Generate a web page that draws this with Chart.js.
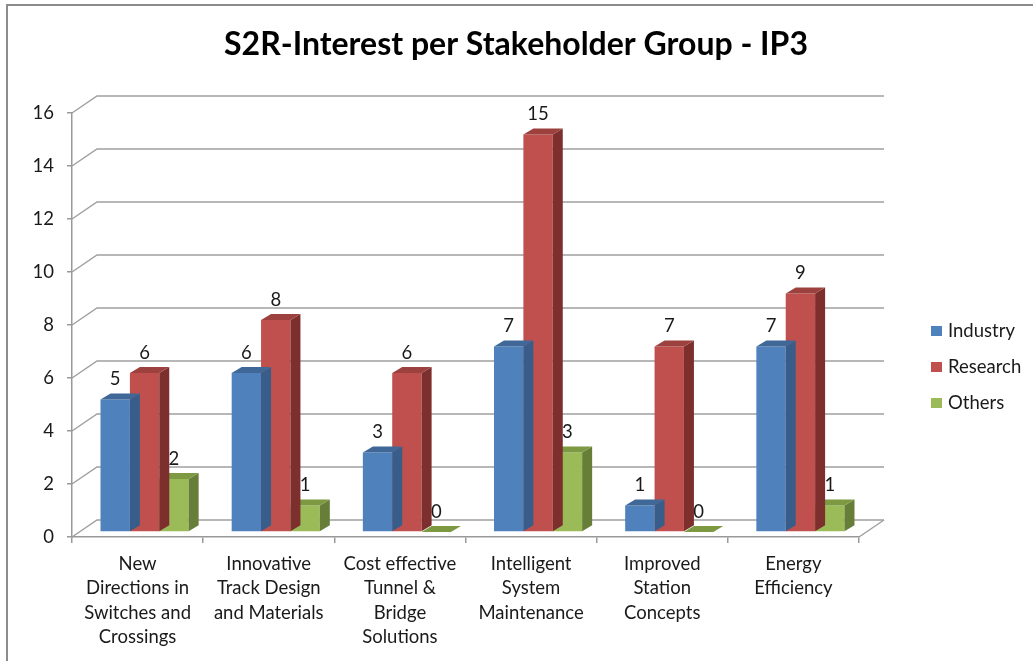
<!DOCTYPE html>
<html>
<head>
<meta charset="utf-8">
<script src="https://cdn.jsdelivr.net/npm/chart.js@4.4.0/dist/chart.umd.min.js"></script>
<style>
  body { margin: 0; background: #fff; }
  #wrap { width: 1033px; height: 661px; }
</style>
</head>
<body>
<div id="wrap"><canvas id="myChart" width="1033" height="661"></canvas></div>
<script>
const categories = [
  ['New', 'Directions in', 'Switches and', 'Crossings'],
  ['Innovative', 'Track Design', 'and Materials'],
  ['Cost effective', 'Tunnel &', 'Bridge', 'Solutions'],
  ['Intelligent', 'System', 'Maintenance'],
  ['Improved', 'Station', 'Concepts'],
  ['Energy', 'Efficiency']
]
const industry = [5, 6, 3, 7, 1, 7]
const research = [6, 8, 6, 15, 7, 9]
const others = [2, 1, 0, 3, 0, 1]
const seriesNames = ['Industry', 'Research', 'Others']
const chartTitle = 'S2R-Interest per Stakeholder Group - IP3'

const FONT = 'Lato, "Open Sans", sans-serif'
const TXT = 18.5
// wall depth, bar front offset, bar depth
const DX = 25, DY = -17
const BX = 7, BY = -5
const SX = 10, SY = -6

const colors = [
  { front: '#4f81bd', top: '#3f6898', side: '#385d8a' },
  { front: '#c0504d', top: '#9c413e', side: '#7d2f2d' },
  { front: '#9bbb59', top: '#7d9a43', side: '#667e38' }
]

function poly(ctx, pts, fill) {
  ctx.beginPath()
  ctx.moveTo(pts[0][0], pts[0][1])
  for (let i = 1; i < pts.length; i++) ctx.lineTo(pts[i][0], pts[i][1])
  ctx.closePath()
  ctx.fillStyle = fill
  ctx.fill()
}

const box3d = {
  id: 'box3d',
  beforeDraw(chart) {
    const { ctx, chartArea: a, scales: { y } } = chart
    ctx.save()
    // outer frame
    ctx.strokeStyle = '#8c8c8c'
    ctx.lineWidth = 2
    ctx.beginPath()
    ctx.moveTo(7, 661); ctx.lineTo(7, 5); ctx.lineTo(1033, 5)
    ctx.stroke()
    // title, centred on the whole frame
    ctx.font = 'bold 32px ' + FONT
    ctx.fillStyle = '#000'
    ctx.textAlign = 'center'
    ctx.textBaseline = 'middle'
    ctx.fillText(chartTitle, 516, 45)
    // back wall gridlines + side connectors
    ctx.strokeStyle = '#a0a0a0'
    ctx.lineWidth = 1.5
    y.ticks.forEach(t => {
      const py = y.getPixelForValue(t.value)
      ctx.beginPath()
      ctx.moveTo(a.left, py)
      ctx.lineTo(a.left + DX, py + DY)
      ctx.lineTo(a.right + DX, py + DY)
      ctx.stroke()
    })
    // floor right edge
    ctx.beginPath()
    ctx.moveTo(a.right, a.bottom)
    ctx.lineTo(a.right + DX, a.bottom + DY)
    ctx.stroke()
    ctx.restore()
  },
  beforeDatasetsDraw(chart) {
    chart.ctx.save()
    chart.ctx.translate(BX, BY)
  },
  afterDatasetDraw(chart, args) {
    const ctx = chart.ctx
    const c = colors[args.index]
    args.meta.data.forEach(el => {
      const { x, y, base, width } = el.getProps(['x', 'y', 'base', 'width'], true)
      const l = x - width / 2, r = x + width / 2
      const top = Math.min(y, base), bot = base
      poly(ctx, [[r, top], [r + SX, top + SY], [r + SX, bot + SY], [r, bot]], c.side)
      poly(ctx, [[l, top], [l + SX, top + SY], [r + SX, top + SY], [r, top]], c.top)
    })
  },
  afterDatasetsDraw(chart) {
    const ctx = chart.ctx
    ctx.restore()
    ctx.save()
    ctx.font = TXT + 'px ' + FONT
    ctx.fillStyle = '#1a1a1a'
    ctx.textAlign = 'center'
    ctx.textBaseline = 'middle'
    chart.data.datasets.forEach((ds, i) => {
      chart.getDatasetMeta(i).data.forEach((el, j) => {
        const { x, y } = el.getProps(['x', 'y'], true)
        ctx.fillText(String(ds.data[j]), x + BX, y + BY - 20)
      })
    })
    ctx.restore()
  },
  afterDraw(chart) {
    const ctx = chart.ctx
    ctx.save()
    ctx.font = TXT + 'px ' + FONT
    ctx.textBaseline = 'middle'
    ctx.textAlign = 'left'
    chart.data.datasets.forEach((ds, i) => {
      const cy = 331 + i * 36
      ctx.fillStyle = colors[i].front
      ctx.fillRect(931, cy - 5, 11, 10)
      ctx.fillStyle = '#1a1a1a'
      ctx.fillText(ds.label, 948, cy)
    })
    ctx.restore()
  }
}

const axisColor = '#999999'

new Chart(document.getElementById('myChart').getContext('2d'), {
  type: 'bar',
  data: {
    labels: categories,
    datasets: [
      { label: seriesNames[0], data: industry, backgroundColor: colors[0].front },
      { label: seriesNames[1], data: research, backgroundColor: colors[1].front },
      { label: seriesNames[2], data: others, backgroundColor: colors[2].front }
    ]
  },
  options: {
    responsive: false,
    animation: false,
    layout: { padding: { top: 113, left: 0, right: 174, bottom: 0 } },
    datasets: {
      bar: { categoryPercentage: 0.672, barPercentage: 1, borderWidth: 0 }
    },
    plugins: {
      legend: { display: false },
      tooltip: { enabled: false },
      title: { display: false }
    },
    scales: {
      x: {
        grid: { drawOnChartArea: false, tickLength: 6, color: axisColor, lineWidth: 1.5, offset: true },
        border: { color: axisColor, width: 1.5 },
        ticks: {
          color: '#1a1a1a',
          font: { family: FONT, size: TXT, lineHeight: 1.31 },
          maxRotation: 0,
          autoSkip: false,
          padding: 9
        },
        afterFit(scale) { scale.height = 124 }
      },
      y: {
        min: 0,
        max: 16,
        grid: { drawOnChartArea: false, tickLength: 5, color: axisColor, lineWidth: 1.5 },
        border: { color: axisColor, width: 1.5 },
        ticks: {
          stepSize: 2,
          color: '#1a1a1a',
          font: { family: FONT, size: TXT },
          padding: 13
        },
        afterFit(scale) { scale.width = 72 }
      }
    }
  },
  plugins: [box3d]
})
</script>
</body>
</html>
